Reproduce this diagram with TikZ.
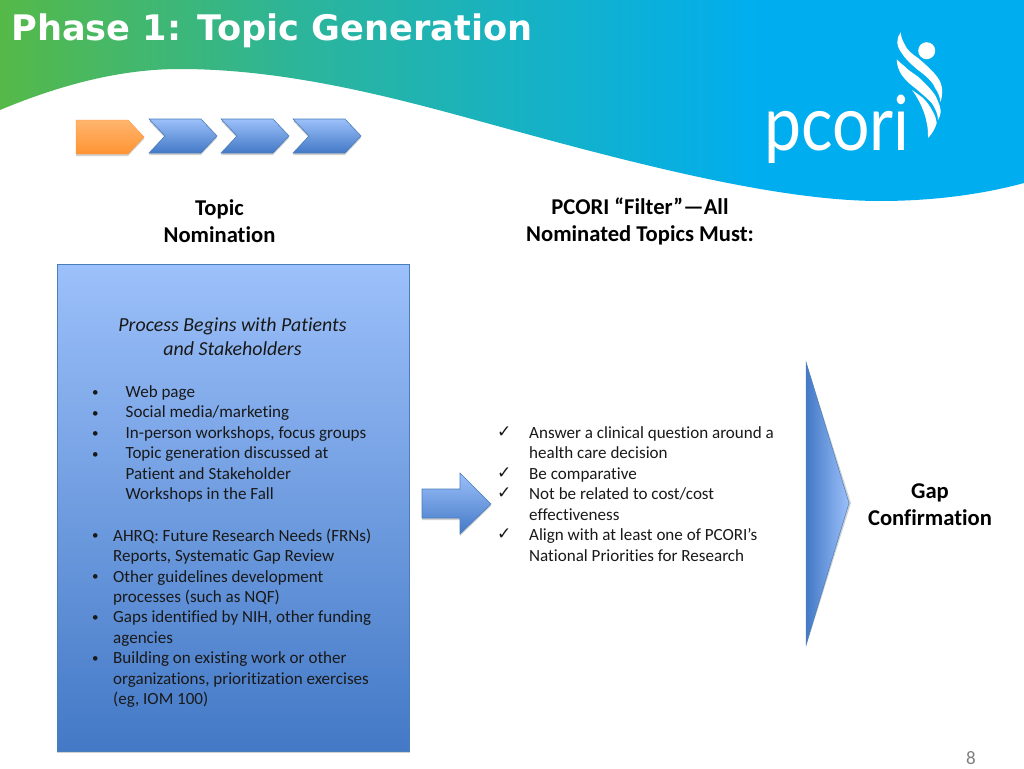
\documentclass[tikz,border=0pt]{standalone}
\usepackage{fontspec}
\setmainfont{Carlito}[Ligatures=NoCommon]
\newfontfamily\titlefont{DejaVu Sans}
\newfontfamily\logofont{Lato}
\newfontfamily\symfont{DejaVu Sans}
\definecolor{bluelight}{HTML}{9CC0FA}
\definecolor{bluedark}{HTML}{4379C6}
\definecolor{blueedge}{HTML}{4A7EBB}
\definecolor{orangelight}{HTML}{FFB56E}
\definecolor{orangedark}{HTML}{FF9433}
\definecolor{brandgreen}{HTML}{55B948}
\definecolor{brandblue}{HTML}{00AEEF}
\definecolor{bandmid}{HTML}{2CB59A}
\newcommand{\bul}{\vphantom{lb(}\raisebox{1.5pt}{\fontsize{13}{13}\selectfont •}}
\newcommand{\chk}{\vphantom{lb(}\raisebox{2.5pt}{\fontsize{17}{17}\selectfont\symfont ✓}}
\tikzset{
  x=1pt,y=-1pt,
  softshadow/.style={fill=black,opacity=0.18,draw=none},
  blueshape/.style={draw=blueedge,line width=0.6pt,top color=bluelight,bottom color=bluedark},
  bodytext/.style={inner sep=0pt,align=left,anchor=north west,text=black!90,font=\fontsize{17.05}{20.45}\selectfont},
  headtext/.style={inner sep=0pt,align=center,text=black,font=\fontsize{22.6}{27}\selectfont\bfseries},
}
\begin{document}
\begin{tikzpicture}
\useasboundingbox (0,0) rectangle (1024,768);
\fill[white] (0,0) rectangle (1024,768);
% band
\begin{scope}
\clip (0,110) .. controls (60,85) and (120,69) .. (180,69)
  .. controls (300,69) and (420,105) .. (512,130)
  .. controls (640,165) and (780,201) .. (880,201)
  .. controls (930,201) and (980,195) .. (1024,183)
  -- (1024,0) -- (0,0) -- cycle;
\shade[left color=brandgreen,right color=bandmid] (0,0) rectangle (300,210);
\shade[left color=bandmid,right color=brandblue] (299.5,0) rectangle (760,210);
\fill[brandblue] (759.5,0) rectangle (1024,210);
\end{scope}
\node[inner sep=0pt,anchor=base west,text=white,font=\fontsize{35.2}{40}\selectfont\titlefont\bfseries] (title) at (11,41) {Phase 1: Topic Generation};
% logo
\node[inner sep=0pt,anchor=base west,text=white,font=\fontsize{76}{80}\selectfont\logofont] (logo) at (764,150) {\scalebox{0.87}[1]{pcori}};
\fill[white] (926.7,50.7) circle (8.5);
\fill[white] (900.7,32.3) .. controls (896,38) and (896,46) .. (901.7,53)
  .. controls (906,60) and (912,65) .. (918,70)
  .. controls (926,76) and (933,82) .. (935,88)
  .. controls (938,92) and (940,97) .. (940.5,102)
  .. controls (943,94) and (943,85) .. (938,78)
  .. controls (933,71) and (925,64) .. (918,58)
  .. controls (912,54) and (907,50) .. (905,45)
  .. controls (902,40) and (901,36) .. (900.7,32.3) -- cycle;
\fill[white] (896.7,59.3) .. controls (896.7,65) and (899,71) .. (901.7,75)
  .. controls (906,81) and (911,85) .. (915,88)
  .. controls (921,93) and (927,98) .. (931.7,103)
  .. controls (935,108) and (938,114) .. (938,120)
  .. controls (941,115) and (941,111) .. (940,107)
  .. controls (939,103) and (937,99) .. (935,95)
  .. controls (930,88) and (924,82) .. (918,76.7)
  .. controls (913,73) and (908,70) .. (905,66.7)
  .. controls (902,64) and (899,62) .. (896.7,59.3) -- cycle;
\fill[white] (912,90) .. controls (916,95) and (919,101) .. (921.7,106.7)
  .. controls (924,112) and (926,118) .. (926.7,123)
  .. controls (928,128) and (928,133) .. (928,138)
  .. controls (932,134) and (935,129) .. (936.7,123)
  .. controls (936,119) and (935,115) .. (933,112)
  .. controls (930,106) and (927,102) .. (923,98)
  .. controls (919,95) and (915,92) .. (912,90) -- cycle;
% chevrons
\fill[softshadow] (76,122) -- (128,122) -- (144,139) -- (128,156) -- (76,156) -- cycle;
\draw[draw=orangedark,top color=orangelight,bottom color=orangedark,line width=0.4pt] (76,120) -- (128,120) -- (144,137) -- (128,154) -- (76,154) -- cycle;
\foreach \dx in {0,72,144}{
  \fill[softshadow] (149+\dx,121) -- (201+\dx,121) -- (217+\dx,138) -- (201+\dx,155) -- (149+\dx,155) -- (165+\dx,138) -- cycle;
  \draw[blueshape] (149+\dx,119) -- (201+\dx,119) -- (217+\dx,136) -- (201+\dx,153) -- (149+\dx,153) -- (165+\dx,136) -- cycle;
}
% headings
\node[headtext] (nom) at (219.5,221) {Topic\\Nomination};
\node[headtext] (filter) at (640,221.5) {PCORI “Filter”—All\\Nominated Topics Must:};
\node[headtext] (gap) at (930,504.5) {Gap\\Confirmation};
% box
\fill[softshadow] (57,266) rectangle (410,753);
\draw[blueshape] (57,264) rectangle (409.6,751);
\node[inner sep=0pt,align=center,text=black!90,font=\fontsize{19.9}{24}\selectfont\itshape] (proc) at (232.5,336.5) {Process Begins with Patients\\and Stakeholders};
\node[bodytext] (b1) at (92,385.5) {\bul\\\bul\\\bul\\\bul};
\node[bodytext] (t1) at (125.5,385.5) {Web page\\Social media/marketing\\In-person workshops, focus groups\\Topic generation discussed at\\Patient and Stakeholder\\Workshops in the Fall};
\node[bodytext] (b2) at (92,528.5) {\bul\\\mbox{}\\\bul\\\mbox{}\\\bul\\\mbox{}\\\bul};
\node[bodytext] (t2) at (113,528.5) {AHRQ: Future Research Needs (FRNs)\\Reports, Systematic Gap Review\\Other guidelines development\\processes (such as NQF)\\Gaps identified by NIH, other funding\\agencies\\Building on existing work or other\\organizations, prioritization exercises\\(eg, IOM 100)};
% arrow
\fill[softshadow] (422,491) -- (460,491) -- (460,475) -- (491,506) -- (460,536) -- (460,520) -- (422,520) -- cycle;
\draw[blueshape] (422,489) -- (460,489) -- (460,473) -- (491,504) -- (460,534) -- (460,518) -- (422,518) -- cycle;
% checks
\node[bodytext] (c1) at (497,426.5) {\chk\\\mbox{}\\\chk\\\chk\\\mbox{}\\\chk};
\node[bodytext] (t3) at (529,426.5) {Answer a clinical question around a\\health care decision\\Be comparative\\Not be related to cost/cost\\effectiveness\\Align with at least one of PCORI’s\\National Priorities for Research};
% triangle
\fill[softshadow] (806,362) -- (851,503) -- (806,647) -- cycle;
\draw[draw=blueedge,line width=0.5pt,left color=bluedark,right color=bluelight] (806,362) -- (849,503) -- (806,645) -- cycle;
% page number
\node[inner sep=0pt,text=black!50,font=\fontsize{19}{20}\selectfont] (pg) at (971,758) {8};
\end{tikzpicture}
\end{document}
